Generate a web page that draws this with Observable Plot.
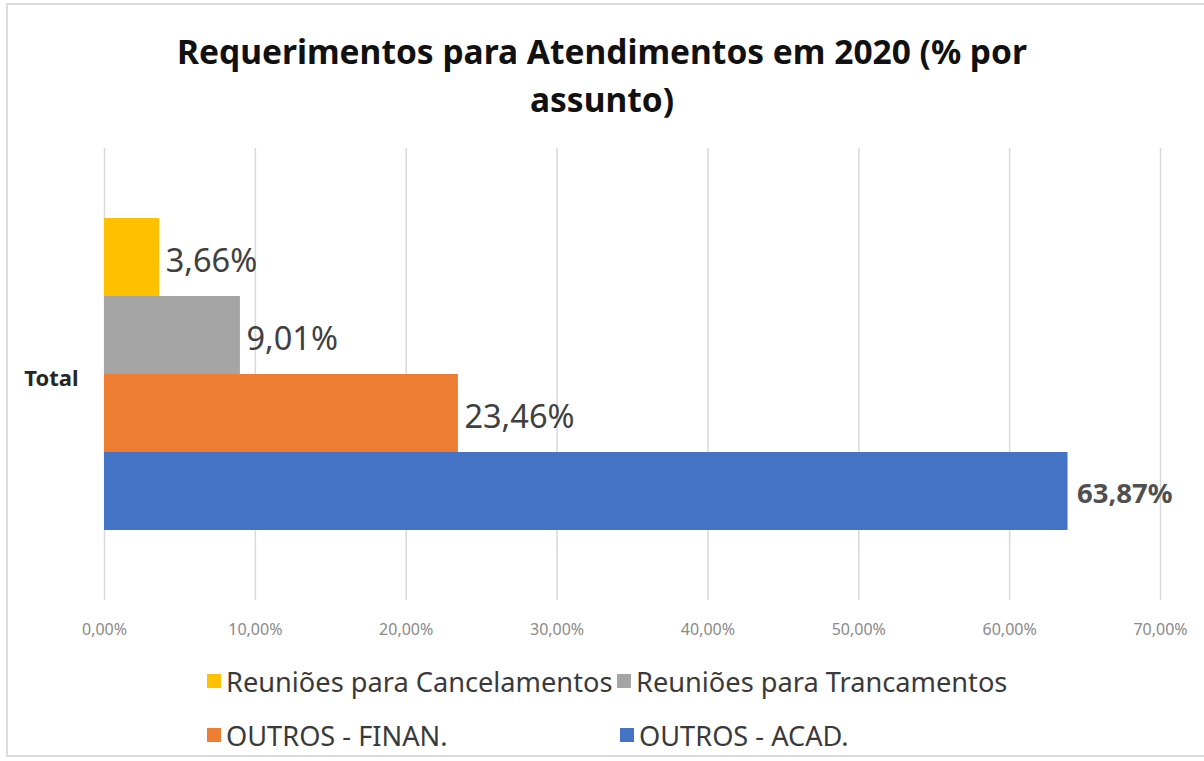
<!DOCTYPE html>
<html>
<head>
<meta charset="utf-8">
<script src="https://cdn.jsdelivr.net/npm/d3@7"></script>
<script src="https://cdn.jsdelivr.net/npm/@observablehq/plot@0.6"></script>
<style>
  html, body { margin: 0; padding: 0; background: #fff; overflow: hidden; width: 1204px; height: 761px; }
  #frame { position: absolute; left: 6px; top: 3px; width: 1220px; height: 754px; border: 2px solid #dcdcdc; box-sizing: border-box; }
  #title { position: absolute; left: 0; top: 27px; width: 1204px; text-align: center; font-family: "Noto Sans", sans-serif; font-weight: bold; font-size: 33.5px; line-height: 48px; color: #111; }
  #chart { position: absolute; left: 0; top: 140px; }
  #legend { position: absolute; left: 0; top: 650px; width: 1204px; font-family: "Noto Sans", sans-serif; font-size: 27.2px; color: #3a3a3a; }
  .item { position: absolute; display: flex; align-items: center; white-space: nowrap; }
  .sw { width: 14px; height: 14px; margin-right: 5px; }
</style>
</head>
<body>
<div id="frame"></div>
<div id="title">Requerimentos para Atendimentos em 2020 (% por<br>assunto)</div>
<div id="chart"></div>
<div id="legend"></div>
<script>
const categories = ["Total"];
const series = ["Reuniões para Cancelamentos", "Reuniões para Trancamentos", "OUTROS - FINAN.", "OUTROS - ACAD."];
const values = [3.66, 9.01, 23.46, 63.87];
const colors = ["#FFC000", "#A5A5A5", "#ED7D31", "#4472C4"];
const xTicks = [0, 10, 20, 30, 40, 50, 60, 70];

const data = series.map((s, i) => ({category: categories[0], series: s, value: values[i]}));
const fmt = v => v.toFixed(2).replace(".", ",") + "%";

const chart = Plot.plot({
  width: 1204,
  height: 510,
  marginLeft: 104,
  marginRight: 44,
  marginTop: 8,
  marginBottom: 50,
  style: {fontFamily: "Noto Sans, sans-serif", background: "transparent"},
  x: {domain: [0, 70], label: null},
  y: {domain: series, paddingInner: 0, paddingOuter: 0.897, axis: null},
  fy: {domain: categories, padding: 0, label: null},
  color: {domain: series, range: colors},
  marks: [
    Plot.gridX(xTicks, {stroke: "#d9d9d9", strokeOpacity: 1, strokeWidth: 1.5}),
    Plot.axisX(xTicks, {tickSize: 0, tickPadding: 23, tickFormat: fmt, fontSize: 16, fill: "#8a8a8a", label: null}),
    Plot.axisFy({anchor: "left", tickSize: 0, tickPadding: 26, fontSize: 22, fontWeight: "bold", fill: "#262626", dy: 4, label: null}),
    Plot.barX(data, {x: "value", y: "series", fy: "category", fill: "series"}),
    Plot.text(data.filter(d => d.value < 50), {x: "value", y: "series", fy: "category", text: d => fmt(d.value), textAnchor: "start", dx: 6, dy: 4, fontSize: 32.5, fill: "#404040"}),
    Plot.text(data.filter(d => d.value >= 50), {x: "value", y: "series", fy: "category", text: d => fmt(d.value), textAnchor: "start", dx: 9, dy: 3, fontSize: 27.5, fontWeight: "bold", fill: "#505050"})
  ]
});
document.getElementById("chart").appendChild(chart);

const legendPos = [[207, 31], [617, 31], [207, 85], [620, 85]];
const legend = document.getElementById("legend");
series.forEach((s, i) => {
  const it = document.createElement("div");
  it.className = "item";
  it.style.left = legendPos[i][0] + "px";
  it.style.top = (legendPos[i][1] - 18) + "px";
  it.style.height = "36px";
  const sw = document.createElement("span");
  sw.className = "sw";
  sw.style.background = colors[i];
  const tx = document.createElement("span");
  tx.textContent = s;
  it.appendChild(sw);
  it.appendChild(tx);
  legend.appendChild(it);
});
</script>
</body>
</html>
